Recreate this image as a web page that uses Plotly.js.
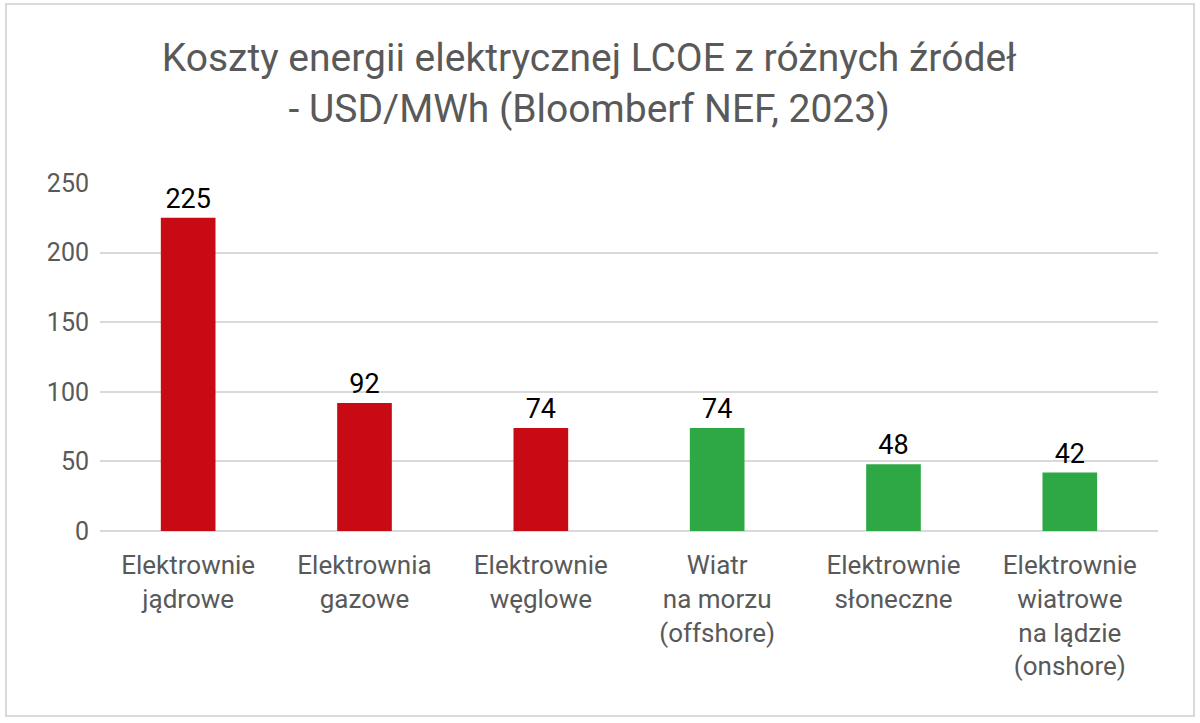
<!DOCTYPE html>
<html>
<head>
<meta charset="utf-8">
<script src="https://cdn.plot.ly/plotly-3.0.1.min.js"></script>
<style>
html,body{margin:0;padding:0;background:#fff;}
#wrap{position:relative;width:1200px;height:723px;}
#chart{width:1200px;height:723px;}
#frame{position:absolute;left:5px;top:3px;width:1186px;height:710px;border:2px solid #d9d9d9;pointer-events:none;}
</style>
</head>
<body>
<div id="wrap"><div id="chart"></div><div id="frame"></div></div>
<script>
const categories = [
  "Elektrownie<br>jądrowe",
  "Elektrownia<br>gazowe",
  "Elektrownie<br>węglowe",
  "Wiatr<br>na morzu<br>(offshore)",
  "Elektrownie<br>słoneczne",
  "Elektrownie<br>wiatrowe<br>na lądzie<br>(onshore)"
];
const values = [225, 92, 74, 74, 48, 42];
const sourceType = ["conv", "conv", "conv", "renew", "renew", "renew"];
const yTicks = [0, 50, 100, 150, 200, 250];
const colorMap = {conv: "#C80A14", renew: "#2EA845"};
const FONT = "Roboto, sans-serif";

const trace = {
  type: "bar",
  x: categories,
  y: values,
  marker: {color: sourceType.map(s => colorMap[s])},
  text: values.map(String),
  textposition: "outside",
  cliponaxis: false,
  textfont: {family: FONT, size: 27, color: "#000"},
  hoverinfo: "x+y"
};

const layout = {
  width: 1200, height: 723,
  margin: {l: 100, r: 42, t: 183, b: 192},
  paper_bgcolor: "#fff", plot_bgcolor: "#fff",
  showlegend: false,
  bargap: 0.69,
  title: {
    text: "Koszty energii elektrycznej LCOE z różnych źródeł<br>- USD/MWh (Bloomberf NEF, 2023)",
    font: {family: FONT, size: 39, color: "#595959"},
    x: 0.491, xanchor: "center", xref: "container",
    y: 0.902, yanchor: "middle", yref: "container"
  },
  xaxis: {
    tickfont: {family: FONT, size: 26, color: "#595959"},
    showgrid: false, showline: false, ticks: "", automargin: false,
    ticklabelstandoff: 16
  },
  yaxis: {
    range: [0, 250],
    tickvals: yTicks,
    tickfont: {family: FONT, size: 25, color: "#595959"},
    gridcolor: "#d9d9d9", gridwidth: 2,
    zeroline: true, zerolinecolor: "#d9d9d9", zerolinewidth: 2,
    showline: false, ticks: "", ticklabelstandoff: 10, automargin: false
  }
};

Plotly.newPlot("chart", [trace], layout, {displayModeBar: false, staticPlot: true});
</script>
</body>
</html>
